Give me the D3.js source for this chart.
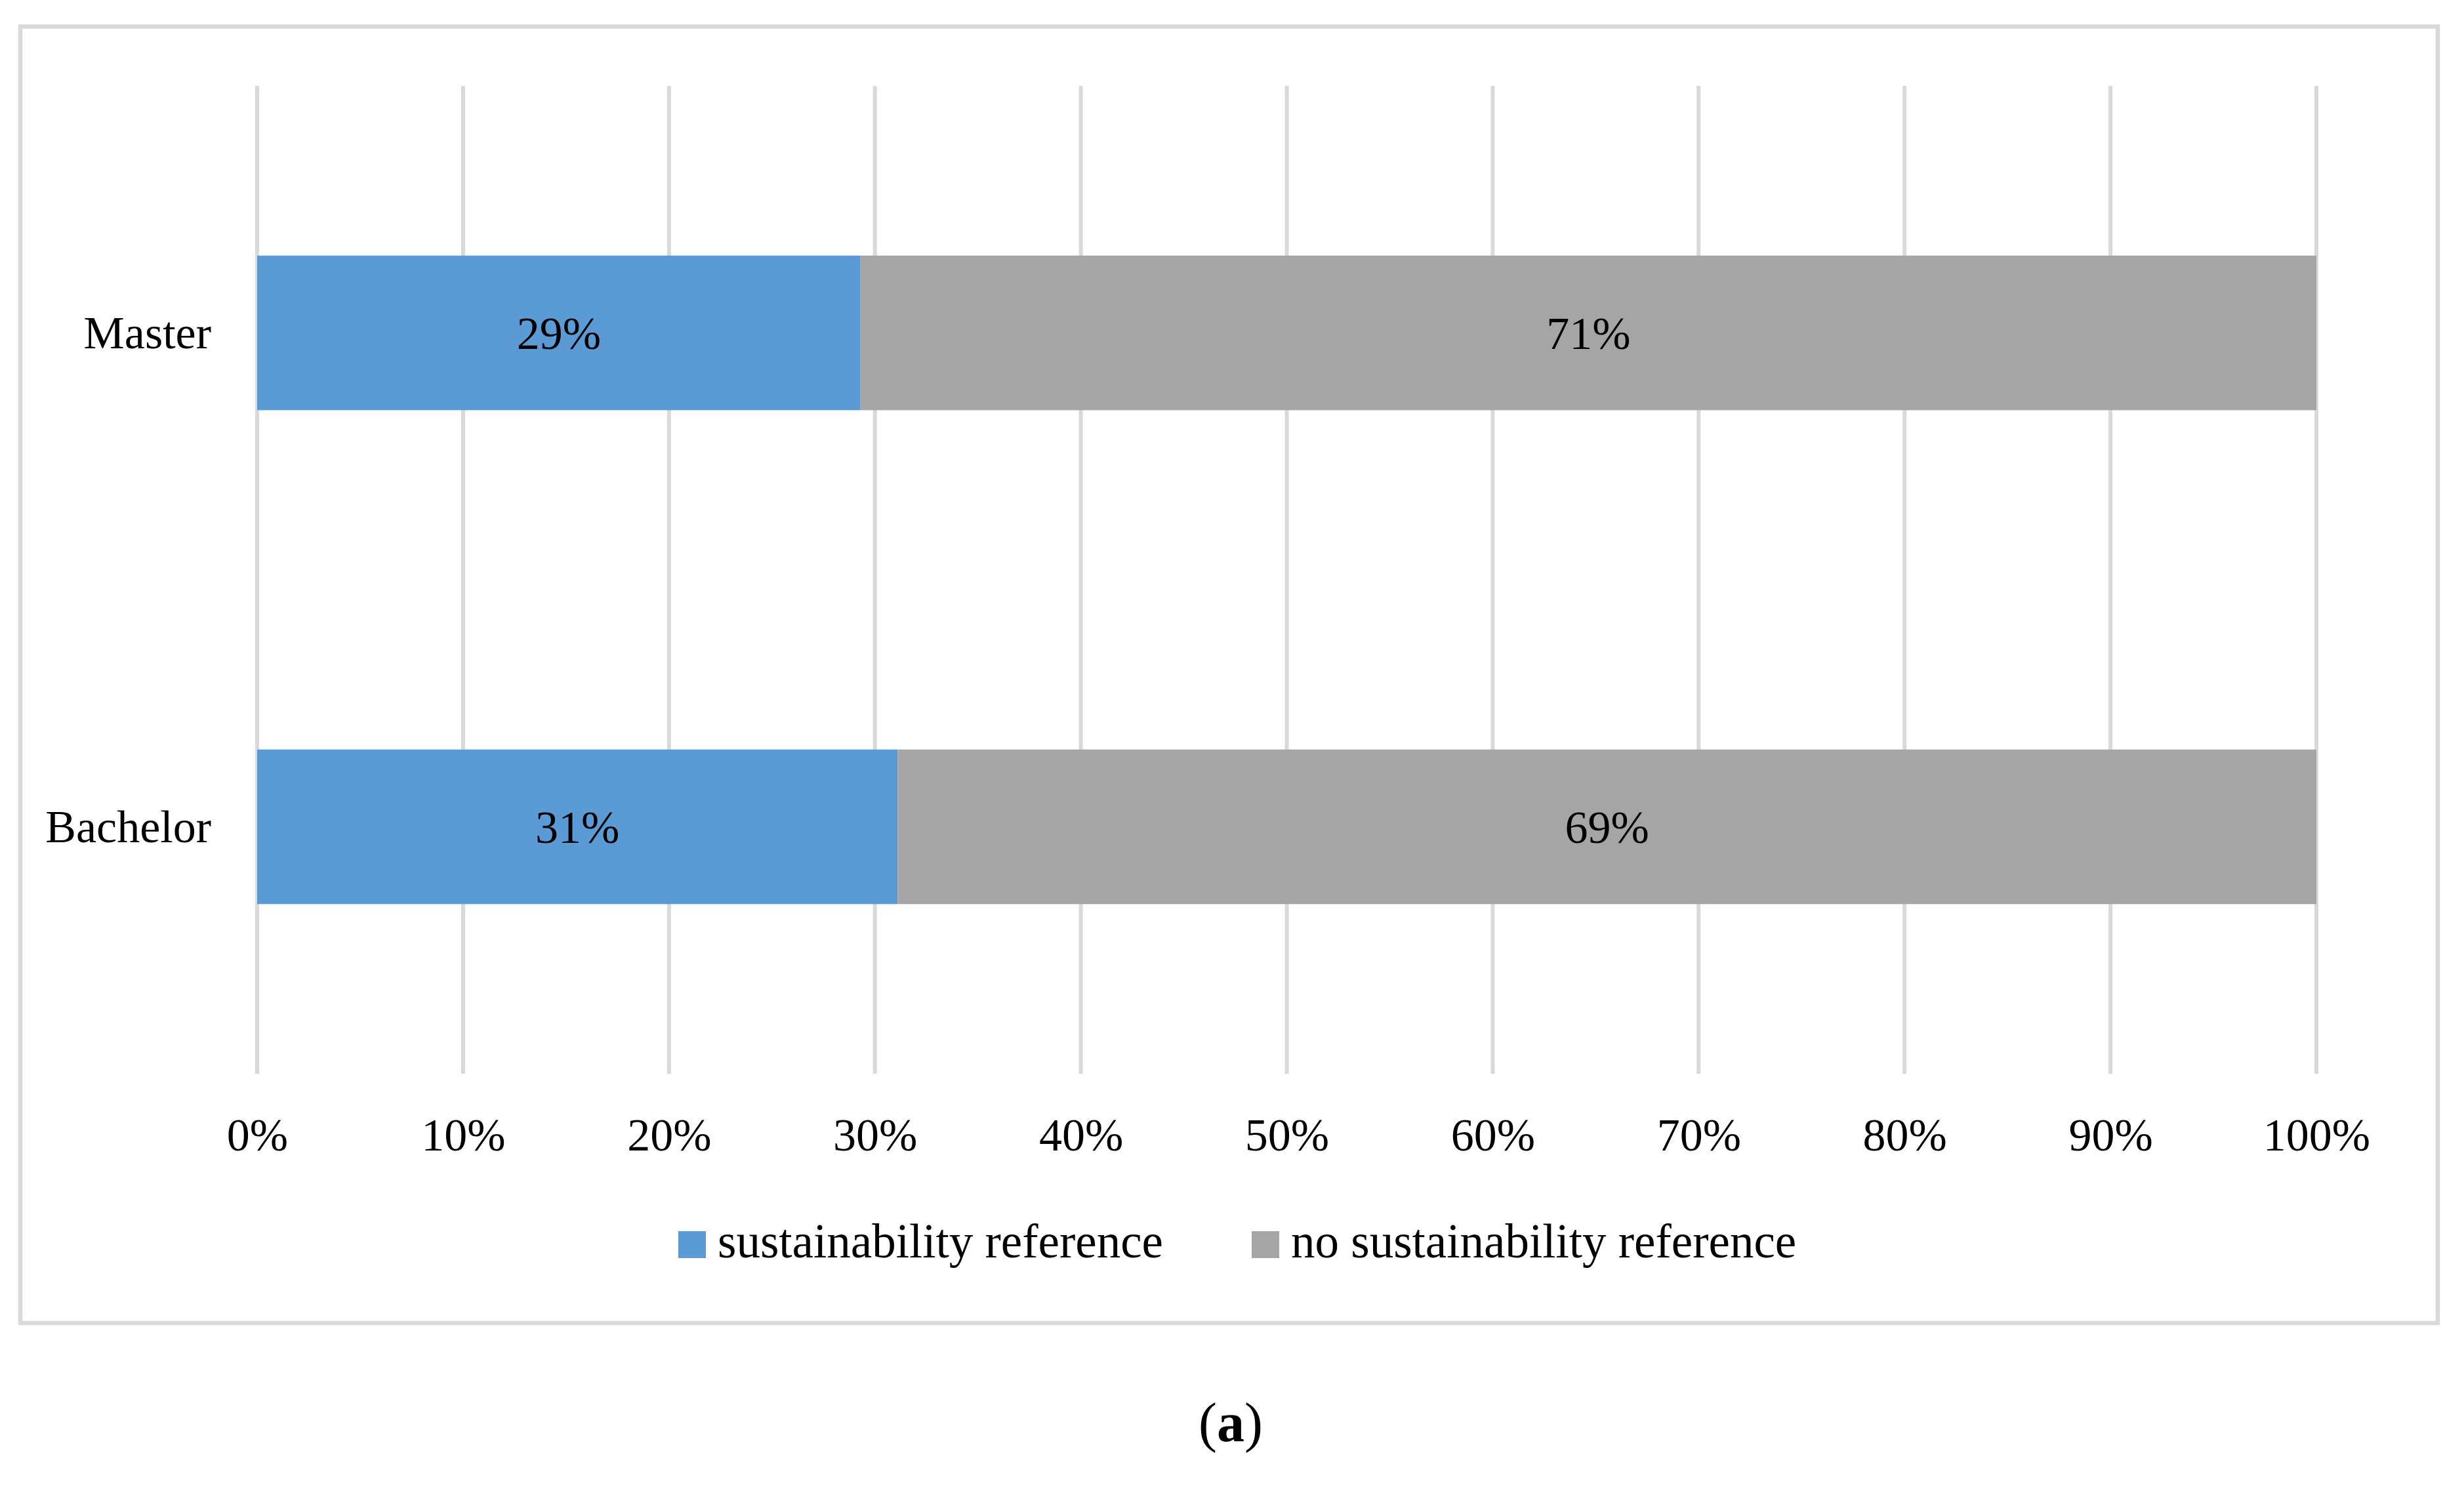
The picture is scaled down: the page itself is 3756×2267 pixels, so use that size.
<!DOCTYPE html>
<html>
<head>
    <meta charset="UTF-8">
    <title>Sustainability reference by degree</title>
    <script src="https://d3js.org/d3.v7.min.js"></script>
    <style>
        body { margin: 0; background: #fff; }
        text { font-family: "Liberation Serif", "DejaVu Serif", serif; fill: #000; }
    </style>
</head>
<body>
    <svg id="chart"></svg>

    <script>
    // data
    const degrees = ["Master", "Bachelor"];
    const seriesNames = ["sustainability reference", "no sustainability reference"];
    const withRef = [29.3, 31.1];
    const withoutRef = [70.7, 68.9];
    const withRefLabels = ["29%", "31%"];
    const withoutRefLabels = ["71%", "69%"];
    const tickValues = [0, 10, 20, 30, 40, 50, 60, 70, 80, 90, 100];
    const colors = ["#5b9bd5", "#a5a5a5"];

    const width = 3756;
    const height = 2267;
    const plot = {left: 392, right: 3531, top: 131, bottom: 1637};

    const svg = d3.select("#chart")
      .attr("width", width)
      .attr("height", height);

    // chart border
    svg.append("rect")
      .attr("x", 31)
      .attr("y", 40.5)
      .attr("width", 3716 - 31)
      .attr("height", 2017 - 40.5)
      .attr("fill", "none")
      .attr("stroke", "#d9d9d9")
      .attr("stroke-width", 6.5);

    const x_scale = d3.scaleLinear()
      .domain([0, 100])
      .range([plot.left, plot.right]);

    const y_scale = d3.scaleBand()
      .domain(degrees)
      .range([plot.top, plot.bottom])
      .paddingInner(0.687)
      .paddingOuter(0.3435);

    // vertical gridlines
    svg.append("g")
      .selectAll("line")
      .data(tickValues)
      .join("line")
      .attr("x1", d => x_scale(d))
      .attr("x2", d => x_scale(d))
      .attr("y1", plot.top)
      .attr("y2", plot.bottom)
      .attr("stroke", "#d9d9d9")
      .attr("stroke-width", 6);

    // x-axis tick labels
    const xAxis = svg.append("g")
      .attr("transform", `translate(0, ${plot.bottom})`)
      .call(d3.axisBottom(x_scale).tickValues(tickValues).tickFormat(d => d + "%").tickSize(0).tickPadding(0));
    xAxis.select(".domain").remove();
    xAxis.selectAll("text")
      .attr("y", 117)
      .attr("dy", null)
      .attr("font-size", 70)
      .attr("font-family", null);

    // y-axis category labels
    const yAxis = svg.append("g")
      .attr("transform", `translate(${plot.left}, 0)`)
      .call(d3.axisLeft(y_scale).tickSize(0).tickPadding(70));
    yAxis.select(".domain").remove();
    yAxis.selectAll("text")
      .attr("dy", "0.33em")
      .attr("font-size", 70)
      .attr("font-family", null);

    // stacked bars
    const rows = degrees.map((d, i) => ({
      degree: d,
      parts: [
        {x0: 0, x1: withRef[i], label: withRefLabels[i], color: colors[0]},
        {x0: withRef[i], x1: withRef[i] + withoutRef[i], label: withoutRefLabels[i], color: colors[1]}
      ]
    }));

    const bar = svg.append("g")
      .selectAll("g")
      .data(rows)
      .join("g")
      .attr("transform", d => `translate(0, ${y_scale(d.degree)})`);

    bar.selectAll("rect")
      .data(d => d.parts)
      .join("rect")
      .attr("x", d => x_scale(d.x0))
      .attr("width", d => x_scale(d.x1) - x_scale(d.x0))
      .attr("height", y_scale.bandwidth())
      .attr("fill", d => d.color);

    bar.selectAll("text")
      .data(d => d.parts)
      .join("text")
      .attr("x", d => (x_scale(d.x0) + x_scale(d.x1)) / 2)
      .attr("y", y_scale.bandwidth() / 2)
      .attr("dy", "0.35em")
      .attr("text-anchor", "middle")
      .attr("font-size", 70)
      .text(d => d.label);

    // legend
    const legendX = [1034, 1908];
    const legend = svg.append("g")
      .selectAll("g")
      .data(seriesNames)
      .join("g")
      .attr("transform", (d, i) => `translate(${legendX[i]}, 1877)`);

    legend.append("rect")
      .attr("width", 42)
      .attr("height", 41)
      .attr("fill", (d, i) => colors[i]);

    legend.append("text")
      .attr("x", 60)
      .attr("y", 40)
      .attr("font-size", 73)
      .text(d => d);

    // caption
    const caption = svg.append("text")
      .attr("x", 1876)
      .attr("y", 2197)
      .attr("text-anchor", "middle")
      .attr("font-size", 84);
    caption.append("tspan").text("(");
    caption.append("tspan").attr("font-weight", "bold").text("a");
    caption.append("tspan").text(")");
    </script>
</body>
</html>
